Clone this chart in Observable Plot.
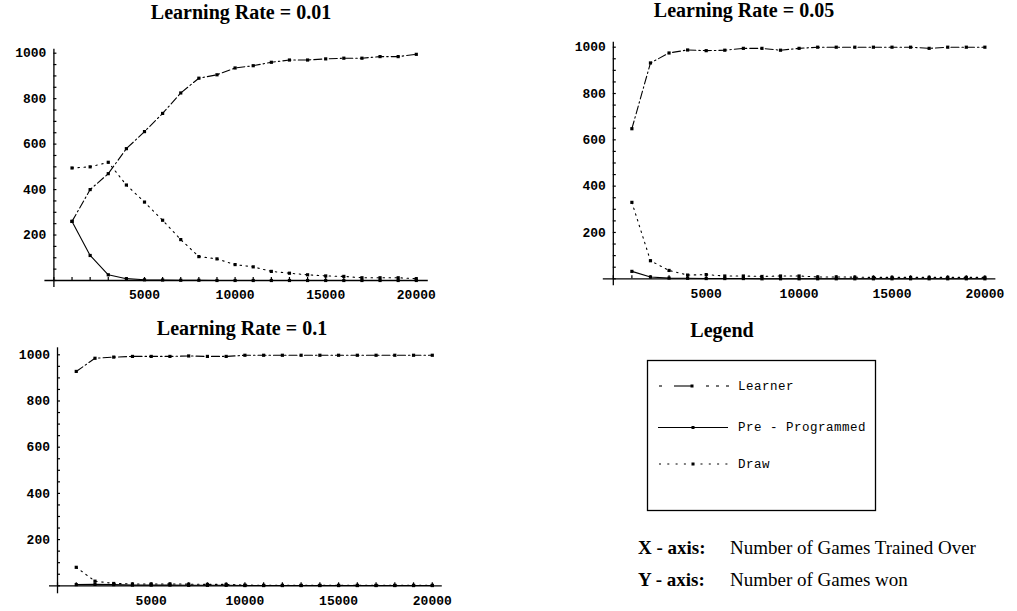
<!DOCTYPE html>
<html><head><meta charset="utf-8">
<script src="https://cdn.jsdelivr.net/npm/d3@7"></script>
<script src="https://cdn.jsdelivr.net/npm/@observablehq/plot@0.6"></script>
<style>
body{margin:0;background:#fff;}
#root{position:relative;width:1017px;height:611px;overflow:hidden;background:#fff;color:#000;}
.title{position:absolute;font-family:"Liberation Serif","Times New Roman",serif;font-weight:bold;font-size:20px;line-height:20px;transform:translateX(-50%);white-space:nowrap;}
.panel{position:absolute;}
.note{position:absolute;font-family:"Liberation Serif","Times New Roman",serif;font-size:19px;line-height:19px;white-space:nowrap;}
.note b{display:inline-block;width:92px;}
</style></head><body><div id="root"></div>
<script>
// ---- data ----
const games = [1000,2000,3000,4000,5000,6000,7000,8000,9000,10000,11000,12000,13000,14000,15000,16000,17000,18000,19000,20000];
const seriesNames = ["Learner", "Pre - Programmed", "Draw"];
const panelTitles = ["Learning Rate = 0.01", "Learning Rate = 0.05", "Learning Rate = 0.1"];
const xTickLabels = [5000, 10000, 15000, 20000];
const yTickLabels = [200, 400, 600, 800, 1000];
const xMinorTicks = [0,1000,2000,3000,4000,5000,6000,7000,8000,9000,10000,11000,12000,13000,14000,15000,16000,17000,18000,19000,20000];
const yMinorTicks = [0,50,100,150,200,250,300,350,400,450,500,550,600,650,700,750,800,850,900,950,1000];

const learner01 = [260,400,470,580,655,735,825,890,905,935,945,960,970,970,975,978,978,985,985,995];
const pre01     = [260,110,25,8,3,2,1,1,0,0,0,0,0,0,0,0,0,0,0,0];
const draw01    = [495,500,520,420,345,265,180,105,95,70,60,40,32,25,20,18,12,12,12,8];

const learner05 = [648,932,975,988,985,987,995,995,987,995,1000,1000,1000,1000,1000,1000,995,1000,1000,1000];
const pre05     = [32,8,3,2,1,1,1,0,0,0,0,0,0,0,0,0,0,0,0,0];
const draw05    = [330,78,36,16,18,12,12,10,12,12,8,8,7,6,6,6,6,6,6,6];

const learner1  = [928,985,990,993,993,993,995,993,993,998,998,998,998,998,998,998,998,998,998,998];
const pre1      = [5,6,5,3,3,3,2,2,2,1,1,1,1,1,1,1,1,1,1,1];
const draw1     = [80,20,10,8,8,8,7,6,6,3,2,2,2,2,2,2,2,2,2,2];

// ---- styles ----
const dashes = {"Learner": "8,3,1.5,3", "Pre - Programmed": null, "Draw": "1.5,4.5"};
const tickFont = {fontFamily: "'Liberation Mono','Courier New',monospace", fontWeight: "bold", fontSize: 13};

const root = document.getElementById("root");

function makePanel(cfg) {
  const rows = [];
  const vals = [cfg.learner, cfg.pre, cfg.draw];
  seriesNames.forEach((s, i) => games.forEach((g, j) => rows.push({series: s, g, v: vals[i][j]})));
  const kx = 5000 / cfg.px5000;   // data units per pixel (x)
  const ky = 1000 / cfg.px1000;   // data units per pixel (y)
  const innerW = cfg.px5000 * 4, innerH = cfg.px1000;
  const width = cfg.ml + innerW + cfg.mr, height = cfg.mt + innerH + cfg.mb;
  const marks = [
    Plot.ruleY([0], {x1: cfg.xl * kx * -1, x2: 20000 + cfg.xr * kx, stroke: "black", strokeWidth: 1.3}),
    Plot.ruleX([0], {y1: -cfg.yb * ky, y2: 1000 + cfg.yt * ky, stroke: "black", strokeWidth: 1.3}),
    Plot.ruleX(xMinorTicks, {x: d => d, y1: 0, y2: 3 * ky, stroke: "black", strokeWidth: 1.2}),
    Plot.ruleY(yMinorTicks, {y: d => d, x1: 0, x2: 3 * kx, stroke: "black", strokeWidth: 1.2}),
    Plot.axisX({ticks: xTickLabels, tickSize: 0, tickPadding: 9.5, label: null, tickFormat: d => String(d), ...tickFont}),
    Plot.axisY({ticks: yTickLabels, tickSize: 0, tickPadding: 7.5, label: null, tickFormat: d => String(d), ...tickFont}),
  ];
  seriesNames.forEach(s => {
    const d = rows.filter(r => r.series === s);
    marks.push(Plot.line(d, {x: "g", y: "v", stroke: "black", strokeWidth: 1.1, strokeDasharray: dashes[s]}));
    marks.push(Plot.dot(d, {x: "g", y: "v", symbol: "square", r: 1.8, fill: "black", stroke: "none"}));
  });
  const svg = Plot.plot({
    width, height,
    marginLeft: cfg.ml, marginRight: cfg.mr, marginTop: cfg.mt, marginBottom: cfg.mb,
    x: {domain: [0, 20000]},
    y: {domain: [0, 1000]},
    style: {background: "transparent", color: "black", overflow: "visible"},
    marks
  });
  const div = document.createElement("div");
  div.className = "panel";
  div.style.left = cfg.left + "px";
  div.style.top = cfg.top + "px";
  div.appendChild(svg);
  root.appendChild(div);

  const t = document.createElement("div");
  t.className = "title";
  t.textContent = cfg.title;
  t.style.left = cfg.titleX + "px";
  t.style.top = cfg.titleY + "px";
  root.appendChild(t);
}

makePanel({title: panelTitles[0], titleX: 241, titleY: 2, left: 0, top: 0,
  ml: 53.4, mr: 20, mt: 52.7, mb: 26, px5000: 90.6, px1000: 227.3,
  xl: 9, xr: 12, yt: 4, yb: 7,
  learner: learner01, pre: pre01, draw: draw01});

makePanel({title: panelTitles[1], titleX: 744, titleY: 0, left: 560, top: 0,
  ml: 52.8, mr: 20, mt: 46.7, mb: 26, px5000: 92.9, px1000: 231.6,
  xl: 10, xr: 11, yt: 5, yb: 7,
  learner: learner05, pre: pre05, draw: draw05});

makePanel({title: panelTitles[2], titleX: 242, titleY: 318, left: 0, top: 310,
  ml: 57, mr: 20, mt: 44.3, mb: 25.7, px5000: 93.7, px1000: 231,
  xl: 8, xr: 10, yt: 7, yb: 8,
  learner: learner1, pre: pre1, draw: draw1});

// ---- legend ----
const lt = document.createElement("div");
lt.className = "title";
lt.textContent = "Legend";
lt.style.left = "722px";
lt.style.top = "320px";
root.appendChild(lt);

const ns = "http://www.w3.org/2000/svg";
const lg = document.createElementNS(ns, "svg");
lg.setAttribute("width", 1017); lg.setAttribute("height", 611);
lg.style.position = "absolute"; lg.style.left = "0"; lg.style.top = "0";
function el(name, attrs, parent) {
  const e = document.createElementNS(ns, name);
  for (const k in attrs) e.setAttribute(k, attrs[k]);
  (parent || lg).appendChild(e);
  return e;
}
el("rect", {x: 647.5, y: 360.5, width: 228, height: 150, fill: "none", stroke: "black", "stroke-width": 1.3});
const rowY = [386, 427.5, 464];
const textY = [390, 431, 468];
// Learner sample
el("line", {x1: 659, x2: 662, y1: rowY[0], y2: rowY[0], stroke: "black", "stroke-width": 1.1});
el("line", {x1: 674, x2: 692, y1: rowY[0], y2: rowY[0], stroke: "black", "stroke-width": 1.1});
[706, 716, 726].forEach(x => el("line", {x1: x, x2: x + 3, y1: rowY[0], y2: rowY[0], stroke: "black", "stroke-width": 1.1}));
el("rect", {x: 690.5, y: rowY[0] - 1.5, width: 3, height: 3, fill: "black"});
// Pre-programmed sample
el("line", {x1: 658, x2: 728, y1: rowY[1], y2: rowY[1], stroke: "black", "stroke-width": 1.1});
el("rect", {x: 691.5, y: rowY[1] - 1.5, width: 3, height: 3, fill: "black"});
// Draw sample
el("line", {x1: 659, x2: 729, y1: rowY[2], y2: rowY[2], stroke: "black", "stroke-width": 1.1, "stroke-dasharray": "2,6.3"});
el("rect", {x: 691.5, y: rowY[2] - 1.5, width: 3, height: 3, fill: "black"});
seriesNames.forEach((s, i) => {
  const t = el("text", {x: 738, y: textY[i], "font-family": "'Liberation Mono','Courier New',monospace", "font-size": 12.5, "letter-spacing": 0.5, fill: "black"});
  t.textContent = s;
});
root.appendChild(lg);

// ---- axis notes ----
const notes = [["X - axis:", "Number of Games Trained Over", 538], ["Y - axis:", "Number of Games won", 570]];
notes.forEach(([a, b, y]) => {
  const n = document.createElement("div");
  n.className = "note";
  n.style.left = "638px";
  n.style.top = y + "px";
  const bb = document.createElement("b");
  bb.textContent = a;
  n.appendChild(bb);
  n.appendChild(document.createTextNode(b));
  root.appendChild(n);
});
</script>
</body></html>
